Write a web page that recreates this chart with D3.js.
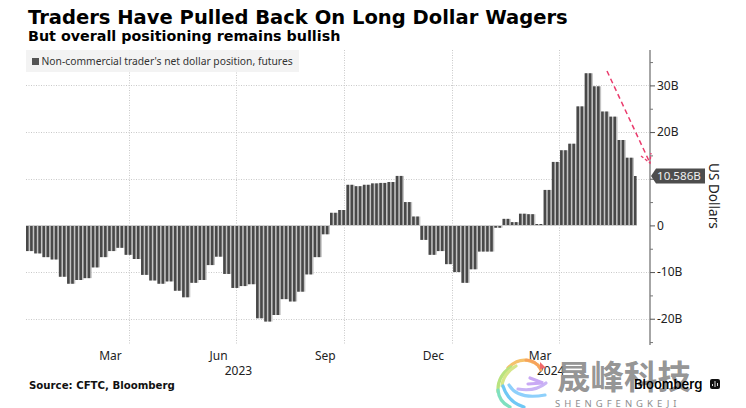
<!DOCTYPE html>
<html><head><meta charset="utf-8">
<script src="https://cdn.jsdelivr.net/npm/d3@7"></script>
<style>html,body{margin:0;padding:0;background:#fff}svg{display:block}</style>
</head><body><svg id="c" width="746" height="408"></svg>
<script>
const firstWeek = "2023-01-03";
const netPosition = [-5.5,-6.0,-6.8,-7.3,-11.0,-12.5,-11.7,-11.3,-9.0,-6.8,-5.5,-4.8,-6.3,-7.2,-10.6,-11.8,-12.5,-12.0,-14.0,-15.4,-12.3,-11.7,-8.5,-6.7,-10.4,-13.4,-13.0,-12.6,-19.9,-20.6,-19.2,-15.8,-16.3,-14.2,-10.5,-6.8,-1.9,2.7,3.3,8.7,8.4,8.7,9.0,9.1,9.3,10.6,5.0,1.9,-3.1,-6.3,-5.5,-8.3,-10.0,-12.3,-9.4,-5.6,-5.6,-0.5,1.4,0.7,2.5,2.4,0.3,7.6,13.6,16.1,17.5,25.5,32.6,29.8,24.4,23.3,18.3,14.5,10.586];
const yTicks = [-20,-10,0,10,20,30];
const yMinorTicks = [-25,-15,-5,5,15,25,35];
const quarterEnds = ["2023-04-01","2023-07-01","2023-10-01","2024-01-01","2024-04-01"];
const quarterLabels = [["Mar","2023-03-16"],["Jun","2023-06-16"],["Sep","2023-09-15"],["Dec","2023-12-16"],["Mar","2024-03-16"]];
const yearLabels = [["2023","2023-07-03"],["2024","2024-03-25"]];
const legendLabel = "Non-commercial trader's net dollar position, futures";

const DAY = 864e5;
const parse = d3.utcParse("%Y-%m-%d");
const t0 = parse(firstWeek);
const weeks = netPosition.map((v,i)=>({date:new Date(+t0+i*7*DAY),v,last:i===netPosition.length-1}));
const svg = d3.select("#c");
const sans = "'Noto Sans',sans-serif";
const x = d3.scaleUtc().domain([t0,weeks[weeks.length-1].date]).range([26,634]);
const y = d3.scaleLinear().domain([0,30]).range([225.4,85.4]);
const axisX = 650, topY = 50, botY = 345;

// grid
const grid = svg.append("g").attr("stroke","#c9c9c9").attr("stroke-width",1).attr("stroke-dasharray","1 1.5");
grid.selectAll(".h").data(yTicks.filter(d=>d!==0)).join("line")
  .attr("x1",26).attr("x2",axisX).attr("y1",d=>Math.round(y(d))+.5).attr("y2",d=>Math.round(y(d))+.5);
grid.selectAll(".v").data(quarterEnds).join("line")
  .attr("y1",topY).attr("y2",botY)
  .attr("x1",d=>Math.round(x(parse(d)))+.5).attr("x2",d=>Math.round(x(parse(d)))+.5);

// legend
svg.append("rect").attr("x",26).attr("y",50).attr("width",273).attr("height",22).attr("fill","#f2f2f2").attr("fill-opacity",.92);
svg.append("rect").attr("x",32).attr("y",58).attr("width",7).attr("height",7).attr("fill","#555");
svg.append("text").attr("x",41.5).attr("y",65).attr("font-family",sans).attr("font-size",10.3).attr("fill","#333").text(legendLabel);

// bars: each weekly level is drawn as two thin stripes over a pale band
svg.append("g").attr("fill","#c4c4c4").selectAll("rect").data(weeks.filter(w=>!w.last)).join("rect")
  .attr("x",d=>x(d.date)).attr("width",d=>x(new Date(+d.date+7*DAY))-x(d.date))
  .attr("y",d=>Math.min(y(d.v),y(0))).attr("height",d=>Math.abs(y(d.v)-y(0)));
const stripes = weeks.flatMap(w=>w.last?[{date:w.date,v:w.v}]:[{date:w.date,v:w.v},{date:new Date(+w.date+3.5*DAY),v:w.v}]);
svg.append("g").attr("fill","#484848").selectAll("rect").data(stripes).join("rect")
  .attr("x",d=>x(d.date)).attr("width",2.6)
  .attr("y",d=>Math.min(y(d.v),y(0))).attr("height",d=>Math.abs(y(d.v)-y(0)));
svg.append("line").attr("x1",26).attr("x2",636).attr("y1",225.5).attr("y2",225.5).attr("stroke","#cfcfcf");

// right axis
svg.append("line").attr("x1",axisX).attr("x2",axisX).attr("y1",topY).attr("y2",botY).attr("stroke","#a6a6a6").attr("stroke-width",2);
const fmt = d=>d===0?"0":d===10?"":(d<0?"-":"")+Math.abs(d)+"B";
const ax = svg.append("g").attr("transform",`translate(${axisX},0)`)
  .call(d3.axisRight(y).tickValues(yTicks).tickSize(5).tickPadding(2).tickFormat(fmt));
ax.select(".domain").remove();
ax.selectAll("line").attr("stroke","#555");
ax.selectAll("text").attr("font-family",sans).attr("font-size",12).attr("fill","#222");
const ax2 = svg.append("g").attr("transform",`translate(${axisX},0)`)
  .call(d3.axisRight(y).tickValues(yMinorTicks).tickSize(3).tickFormat(""));
ax2.select(".domain").remove();
ax2.selectAll("line").attr("stroke","#777");

// last value tag
const yl = y(netPosition[netPosition.length-1]);
svg.append("path").attr("fill","#4d4d4d").attr("d",`M651,${yl} l5,-7.5 h49 v15 h-49 z`);
svg.append("text").attr("x",657).attr("y",yl+4).attr("font-family",sans).attr("font-size",11.6).attr("fill","#f0f0f0").text("10.586B");
svg.append("text").attr("transform","translate(708.5,163) rotate(90)").attr("font-family",sans).attr("font-size",13.6).attr("fill","#222").text("US Dollars");

// x labels
const xt = svg.append("g").attr("font-family",sans).attr("font-size",12).attr("fill","#222").attr("text-anchor","middle");
xt.selectAll(".q").data(quarterLabels).join("text").attr("x",d=>x(parse(d[1]))).attr("y",359.5).text(d=>d[0]);
xt.selectAll(".yr").data(yearLabels).join("text").attr("x",d=>x(parse(d[1]))).attr("y",374.5).text(d=>d[0]);

// titles
const bold = "'DejaVu Sans',sans-serif";
svg.append("text").attr("x",28).attr("y",24).attr("font-family",bold).attr("font-weight",700).attr("font-size",19.55).attr("fill","#000").text("Traders Have Pulled Back On Long Dollar Wagers");
svg.append("text").attr("x",28).attr("y",41).attr("font-family",bold).attr("font-weight",700).attr("font-size",14.3).attr("fill","#000").text("But overall positioning remains bullish");
svg.append("text").attr("x",29).attr("y",389).attr("font-family",bold).attr("font-weight",700).attr("font-size",10.2).attr("fill","#111").text("Source: CFTC, Bloomberg");

// annotation arrow
svg.append("path").attr("fill","none").attr("stroke","#ea3a6c").attr("stroke-width",1.5).attr("stroke-dasharray","5 3.5").attr("d","M607,71 L650,163");
svg.append("path").attr("fill","none").attr("stroke","#ea3a6c").attr("stroke-width",1.3).attr("stroke-dasharray","3 2").attr("d","M641,156 L650,163 L651,153");

// watermark logo
const logo = svg.append("g").attr("fill","none").attr("stroke-linecap","round");
const arcs = [["#f5c26b","M538,365 Q522,354 508,368"],["#f7a35c","M541,370 Q536,360 526,360"],["#b9e37f","M511,367 Q497,376 498,392"],["#d6e68a","M516,366 Q503,374 502,386"],["#7fe0c0","M498,390 Q499,402 510,407"],["#6fc8f5","M503,386 Q508,402 524,407"],["#8ed0fb","M509,385 Q518,400 545,395"],["#c9b4f5","M518,389 Q535,392 546,383"],["#c9a9f5","M528,384 L543,383 L530,378"]];
logo.selectAll("path").data(arcs).join("path").attr("stroke",d=>d[0]).attr("stroke-width",3.2).attr("d",d=>d[1]);
svg.append("path").attr("fill","#f06a6a").attr("d","M540,362 L546,368 L540,369 Z");
svg.append("text").attr("x",557).attr("y",389).attr("font-family","'Noto Sans CJK SC'").attr("font-weight",700).attr("font-size",33.5).attr("fill","#878787").attr("fill-opacity",.9).text("晟峰科技");
svg.append("text").attr("x",555).attr("y",406.5).attr("font-family",sans).attr("font-size",9.5).attr("letter-spacing",4).attr("fill","#8e8e8e").text("SHENGFENGKEJI");

// Bloomberg mark
svg.append("text").attr("x",634).attr("y",389).attr("font-family","Inter,'Noto Sans',sans-serif").attr("font-weight",600).attr("font-size",13).attr("fill","#000").text("Bloomberg");
svg.append("rect").attr("x",710).attr("y",379).attr("width",10).attr("height",10).attr("rx",2).attr("fill","#111");
svg.append("path").attr("stroke","#ddd").attr("stroke-width",1).attr("d","M712.5,386v-2M715,387v-6M717.5,386v-3");
</script></body></html>
